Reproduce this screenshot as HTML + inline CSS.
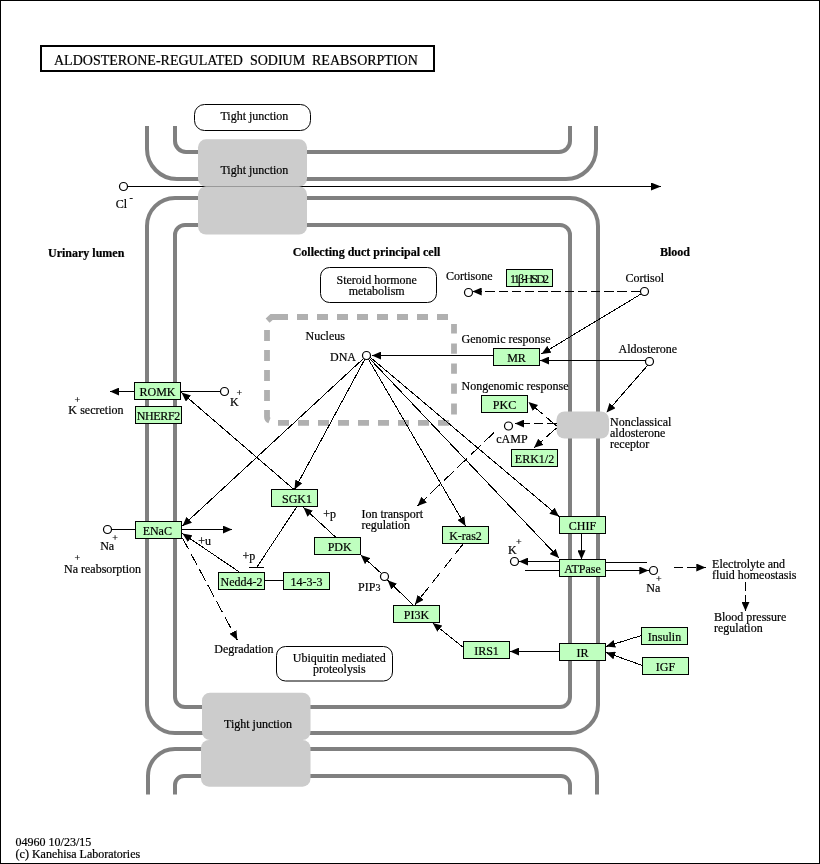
<!DOCTYPE html><html><head><meta charset="utf-8"><title>Aldosterone-regulated sodium reabsorption</title>
<style>html,body{margin:0;padding:0;background:#fff}svg{display:block;will-change:transform}text{font-family:"Liberation Serif",serif;font-size:12px;fill:#000;stroke:#000;stroke-width:0.2px}.b{font-weight:bold}.s{font-size:10px}.m{text-anchor:middle}</style></head><body>
<svg width="820" height="864" viewBox="0 0 820 864">
<defs><marker id="ah" viewBox="0 0 9.2 8" refX="9.2" refY="4" markerWidth="9.2" markerHeight="8" markerUnits="userSpaceOnUse" orient="auto"><path d="M0,0 L9.2,4 L0,8 Z" fill="#000"/></marker><marker id="ah2" viewBox="0 0 10 8" refX="10" refY="4" markerWidth="10" markerHeight="8" markerUnits="userSpaceOnUse" orient="auto"><path d="M0,0 L10,4 L0,8 Z" fill="#000"/></marker></defs>
<rect x="0" y="0" width="820" height="864" fill="#fff"/>
<rect x="0.5" y="0.5" width="819" height="863" fill="none" stroke="#000" stroke-width="1"/>
<rect x="41" y="46" width="393" height="25" fill="#fff" stroke="#000" stroke-width="2"/>
<text x="54" y="65" style="font-size:14px;word-spacing:3.4px">ALDOSTERONE-REGULATED SODIUM REABSORPTION</text>
<g fill="none" stroke="#808080" stroke-width="4">
<path d="M147,126 V149 A30,30 0 0 0 177,179 H566 A30,30 0 0 0 596,149 V126"/>
<path d="M175,126 V141 A11,11 0 0 0 186,152 H559 A11,11 0 0 0 570,141 V126"/>
<rect x="147" y="198" width="451" height="535" rx="28" ry="28"/>
<rect x="175" y="225" width="395" height="482" rx="10" ry="10"/>
<path d="M148,794.5 V776 A27,27 0 0 1 175,749 H570 A27,27 0 0 1 597,776 V794.5"/>
<path d="M175,794.5 V785 A9,9 0 0 1 184,776 H561 A9,9 0 0 1 570,785 V794.5"/>
</g>
<line x1="127.5" y1="186.5" x2="661" y2="186.5" stroke="#000" stroke-width="1" shape-rendering="crispEdges" marker-end="url(#ah2)"/>
<g fill="#cccccc">
<rect x="198" y="139.3" width="109" height="47.2" rx="8"/><rect x="198" y="186.5" width="109" height="48" rx="8"/>
<rect x="202" y="692.7" width="108.5" height="47.3" rx="8"/><rect x="201" y="740" width="109.5" height="46.7" rx="8"/>
<rect x="556.5" y="411.5" width="52.5" height="27" rx="8"/>
</g>
<g fill="none" stroke="#b0b0b0" stroke-width="5.8">
<path d="M277,317 h11 M278,422.8 h11 M297,317 h11 M298,422.8 h11 M317,317 h11 M318,422.8 h11 M337,317 h11 M338,422.8 h11 M357,317 h11 M358,422.8 h11 M377,317 h11 M378,422.8 h11 M397,317 h11 M398,422.8 h11 M417,317 h11 M418,422.8 h11 M437,317 h11 M438,422.8 h11 M267,330 v11 M267,350 v11 M267,370 v11 M267,390 v11 M454,343.5 v10.3 M454,363.5 v10.3 M454,383.5 v10.3 M454,403.5 v11 M267,410 v7 q0,2.5 2.5,3.5 M267.6,320.6 L271.6,317 H288 M454,333.6 v-9.6"/>
</g>
<g fill="#fff" stroke="#000" stroke-width="1">
<rect x="194.5" y="104.5" width="116" height="26" rx="10"/>
<rect x="320.5" y="267.5" width="116" height="35" rx="9"/>
<rect x="276.5" y="646.5" width="116" height="34.5" rx="9"/>
</g>
<g stroke="#000" stroke-width="1" fill="none" shape-rendering="crispEdges"><line x1="220" y1="391.5" x2="181" y2="391.5"/><line x1="134" y1="391.5" x2="110" y2="391.5" marker-end="url(#ah)"/><line x1="112" y1="529.5" x2="135.5" y2="529.5"/><line x1="181.5" y1="529.5" x2="232" y2="529.5" marker-end="url(#ah)"/><line x1="363.5" y1="358.5" x2="182.5" y2="526" marker-end="url(#ah)"/><line x1="364.8" y1="359.3" x2="294.5" y2="489.5" marker-end="url(#ah)"/><line x1="368.5" y1="359.3" x2="465.5" y2="526" marker-end="url(#ah)"/><line x1="369.5" y1="358.5" x2="559" y2="558" marker-end="url(#ah)"/><line x1="370.5" y1="357.5" x2="559" y2="516.5" marker-end="url(#ah)"/><line x1="493" y1="355.5" x2="372" y2="355.5" marker-end="url(#ah)"/><line x1="294" y1="489.5" x2="181.5" y2="392.5" marker-end="url(#ah)"/><line x1="297" y1="506.5" x2="257" y2="567"/><line x1="249" y1="567.5" x2="263.5" y2="567.5"/><line x1="240" y1="572.5" x2="182.5" y2="533.5" marker-end="url(#ah)"/><line x1="264.5" y1="580.5" x2="283.5" y2="580.5"/><line x1="182.5" y1="538" x2="237.3" y2="640" marker-end="url(#ah)" stroke-dasharray="12.86,5.01"/><line x1="336" y1="537.5" x2="303.5" y2="507.5" marker-end="url(#ah)"/><line x1="381.8" y1="573.8" x2="360.8" y2="555" marker-end="url(#ah)"/><line x1="413.7" y1="605.5" x2="387.6" y2="580.3" marker-end="url(#ah)"/><line x1="463.5" y1="543.5" x2="415" y2="604.5" marker-end="url(#ah)" stroke-dasharray="13.35,5.20"/><line x1="464" y1="648" x2="432.7" y2="623" marker-end="url(#ah)"/><line x1="559" y1="651.5" x2="510" y2="651.5" marker-end="url(#ah)"/><line x1="641.5" y1="635.5" x2="606" y2="646.5" marker-end="url(#ah)"/><line x1="642.5" y1="665.5" x2="606" y2="652.5" marker-end="url(#ah)"/><line x1="581.5" y1="533.5" x2="581.5" y2="559.5" marker-end="url(#ah)"/><line x1="559" y1="561.5" x2="519" y2="561.5" marker-end="url(#ah)"/><line x1="524.5" y1="570.5" x2="559" y2="570.5"/><line x1="605" y1="562.5" x2="647" y2="562.5"/><line x1="605" y1="570.5" x2="648.5" y2="570.5" marker-end="url(#ah)"/><line x1="673.5" y1="567.5" x2="705.5" y2="567.5" marker-end="url(#ah)" stroke-dasharray="9.50,3.70"/><line x1="745.5" y1="581.5" x2="745.5" y2="611" marker-end="url(#ah)" stroke-dasharray="9.50,3.70"/><line x1="640" y1="291.5" x2="472.5" y2="291.5" marker-end="url(#ah)" stroke-dasharray="9.50,3.70"/><line x1="641" y1="294" x2="541.5" y2="354" marker-end="url(#ah)"/><line x1="645.5" y1="360.5" x2="540" y2="360.5" marker-end="url(#ah)"/><line x1="647.5" y1="365.5" x2="606.5" y2="412.5" marker-end="url(#ah)"/><line x1="556.5" y1="426" x2="528.5" y2="402" marker-end="url(#ah)" stroke-dasharray="13.40,5.22"/><line x1="556.5" y1="423.5" x2="515" y2="423.5" marker-end="url(#ah)" stroke-dasharray="9.50,3.70"/><line x1="556.5" y1="428" x2="534" y2="447.8" marker-end="url(#ah)" stroke-dasharray="13.41,5.22"/><line x1="494" y1="432.5" x2="417.5" y2="506" marker-end="url(#ah)" stroke-dasharray="13.43,5.23"/></g>
<g fill="#fff" stroke="#000" stroke-width="1.2">
<circle cx="123.5" cy="186.5" r="4"/>
<circle cx="224.5" cy="391.5" r="4"/>
<circle cx="107.5" cy="529.5" r="4"/>
<circle cx="366.5" cy="355.5" r="4"/>
<circle cx="468.5" cy="292.5" r="4"/>
<circle cx="644.5" cy="291.5" r="4"/>
<circle cx="649.5" cy="361.5" r="4"/>
<circle cx="508.5" cy="426" r="4"/>
<circle cx="384.5" cy="576.5" r="4"/>
<circle cx="514.5" cy="561.5" r="4"/>
<circle cx="653.5" cy="570.5" r="4"/>
</g>
<rect x="134.5" y="382.5" width="46" height="17" fill="#bfffbf" stroke="#000" stroke-width="1"/>
<text class="m" x="157.5" y="396">ROMK</text>
<rect x="135.5" y="406.5" width="46" height="17" fill="#bfffbf" stroke="#000" stroke-width="1"/>
<text class="m" x="158.5" y="420" textLength="43.5" lengthAdjust="spacing">NHERF2</text>
<rect x="135.5" y="521.5" width="46" height="17" fill="#bfffbf" stroke="#000" stroke-width="1"/>
<text class="m" x="157.3" y="535">ENaC</text>
<rect x="271.5" y="489.5" width="46" height="17" fill="#bfffbf" stroke="#000" stroke-width="1"/>
<text class="m" x="297.0" y="503">SGK1</text>
<rect x="314.5" y="537.5" width="46" height="17" fill="#bfffbf" stroke="#000" stroke-width="1"/>
<text class="m" x="339.7" y="551">PDK</text>
<rect x="218.5" y="572.5" width="46" height="17" fill="#bfffbf" stroke="#000" stroke-width="1"/>
<text class="m" x="241.5" y="586">Nedd4-2</text>
<rect x="283.5" y="572.5" width="46" height="17" fill="#bfffbf" stroke="#000" stroke-width="1"/>
<text class="m" x="306.5" y="586">14-3-3</text>
<rect x="442.5" y="526.5" width="46" height="17" fill="#bfffbf" stroke="#000" stroke-width="1"/>
<text class="m" x="465.5" y="540">K-ras2</text>
<rect x="393.5" y="605.5" width="46" height="17" fill="#bfffbf" stroke="#000" stroke-width="1"/>
<text class="m" x="416.5" y="619">PI3K</text>
<rect x="463.5" y="641.5" width="46" height="17" fill="#bfffbf" stroke="#000" stroke-width="1"/>
<text class="m" x="486.5" y="655">IRS1</text>
<rect x="559.5" y="643.5" width="46" height="17" fill="#bfffbf" stroke="#000" stroke-width="1"/>
<text class="m" x="582.5" y="657">IR</text>
<rect x="559.5" y="516.5" width="46" height="17" fill="#bfffbf" stroke="#000" stroke-width="1"/>
<text class="m" x="582.5" y="530">CHIF</text>
<rect x="559.5" y="559.5" width="46" height="17" fill="#bfffbf" stroke="#000" stroke-width="1"/>
<text class="m" x="582.5" y="573">ATPase</text>
<rect x="641.5" y="627.5" width="46" height="17" fill="#bfffbf" stroke="#000" stroke-width="1"/>
<text class="m" x="664.5" y="641">Insulin</text>
<rect x="642.5" y="657.5" width="46" height="17" fill="#bfffbf" stroke="#000" stroke-width="1"/>
<text class="m" x="665.5" y="671">IGF</text>
<rect x="493.5" y="348.5" width="46" height="17" fill="#bfffbf" stroke="#000" stroke-width="1"/>
<text class="m" x="516.5" y="362">MR</text>
<rect x="481.5" y="395.5" width="46" height="17" fill="#bfffbf" stroke="#000" stroke-width="1"/>
<text class="m" x="504.5" y="409">PKC</text>
<rect x="511.5" y="449.5" width="46" height="17" fill="#bfffbf" stroke="#000" stroke-width="1"/>
<text class="m" x="534.5" y="463">ERK1/2</text>
<rect x="506.5" y="269.5" width="46" height="17" fill="#bfffbf" stroke="#000" stroke-width="1"/>
<text class="m" x="529.5" y="283" textLength="39" lengthAdjust="spacing">11β-HSD2</text>
<text x="220.4" y="120">Tight junction</text>
<text x="220.4" y="174">Tight junction</text>
<text x="224" y="728">Tight junction</text>
<text x="115.8" y="208">Cl</text>
<text x="48" y="257" class="b">Urinary lumen</text>
<text x="292.7" y="256" class="b">Collecting duct principal cell</text>
<text x="660" y="256" class="b">Blood</text>
<text x="445.9" y="280">Cortisone</text>
<text x="625.4" y="282">Cortisol</text>
<text x="305.6" y="340">Nucleus</text>
<text x="330" y="361">DNA</text>
<text x="461.5" y="343">Genomic response</text>
<text x="618.5" y="353">Aldosterone</text>
<text x="461.5" y="390">Nongenomic response</text>
<text x="496.3" y="443">cAMP</text>
<text x="610" y="426">Nonclassical</text>
<text x="610" y="437">aldosterone</text>
<text x="610" y="448">receptor</text>
<text x="230" y="406">K</text>
<text x="68.2" y="414">K</text>
<text x="80.2" y="414">secretion</text>
<text x="100.2" y="550">Na</text>
<text x="64" y="573">Na reabsorption</text>
<text x="198.2" y="545">+u</text>
<text x="242.5" y="560">+p</text>
<text x="323.3" y="518">+p</text>
<text x="361.4" y="518">Ion transport</text>
<text x="361.4" y="529">regulation</text>
<text x="358.1" y="591">PIP</text>
<text x="214.3" y="653">Degradation</text>
<text x="508" y="554">K</text>
<text x="646.3" y="592">Na</text>
<text x="712.1" y="568">Electrolyte and</text>
<text x="712.1" y="579">fluid homeostasis</text>
<text x="714" y="621">Blood pressure</text>
<text x="714" y="632">regulation</text>
<text x="15.6" y="846">04960 10/23/15</text>
<text x="15.6" y="858">(c) Kanehisa Laboratories</text>
<text class="m" x="376.7" y="284">Steroid hormone</text>
<text class="m" x="376.7" y="295">metabolism</text>
<text class="m" x="339.3" y="662">Ubiquitin mediated</text>
<text class="m" x="339.3" y="673">proteolysis</text>
<text class="s" x="129.5" y="201">-</text>
<text class="s" x="236.5" y="396">+</text>
<text class="s" x="74.6" y="403">+</text>
<text class="s" x="112.2" y="541">+</text>
<text class="s" x="74.5" y="561">+</text>
<text class="s" x="516" y="545">+</text>
<text class="s" x="656" y="582">+</text>
<text class="s" x="375.5" y="590.7">3</text>
</svg></body></html>
